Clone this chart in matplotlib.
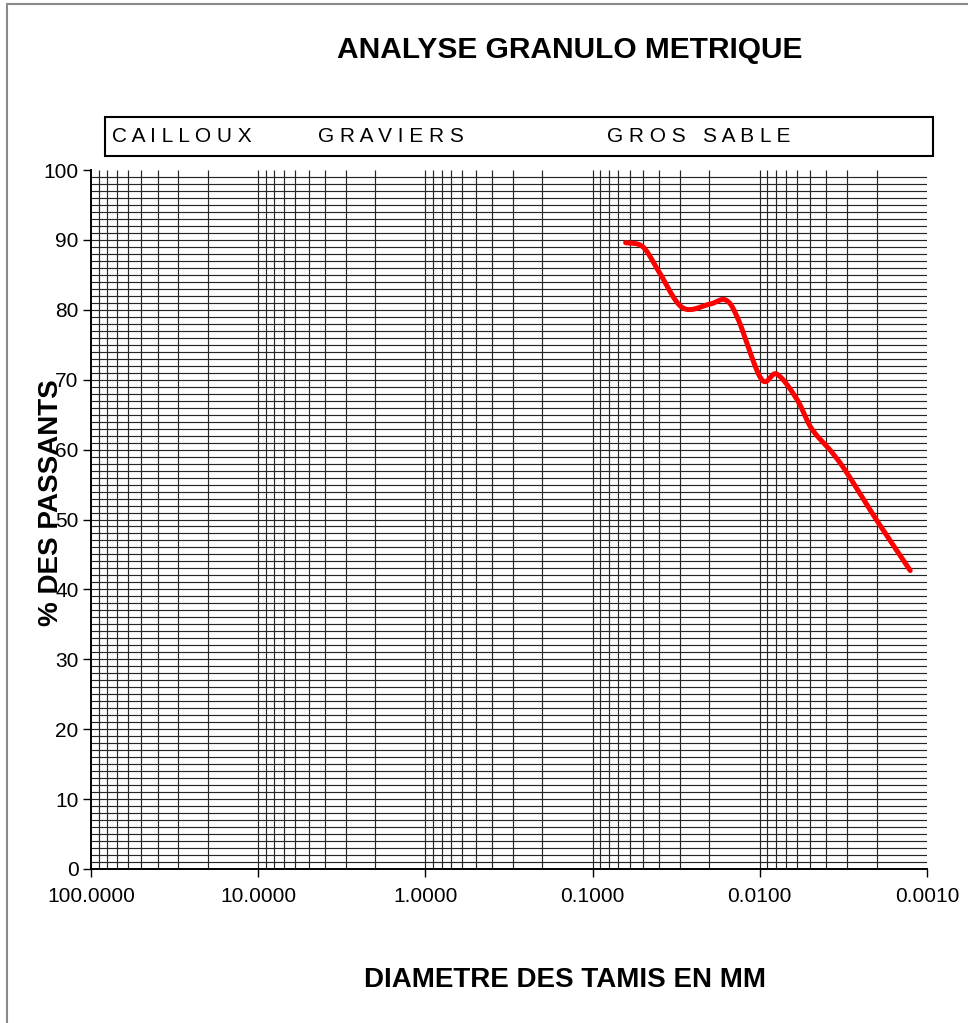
import numpy as np
import matplotlib
matplotlib.use("Agg")
import matplotlib.pyplot as plt
from matplotlib.patches import Rectangle

plt.rcParams['font.family'] = ['Liberation Sans', 'DejaVu Sans']

# Grain size (mm) and cumulative percentage passing
diametres = [0.0635, 0.050, 0.040, 0.029, 0.020, 0.016, 0.0135, 0.0098,
             0.0079, 0.0060, 0.0049, 0.0037, 0.0030, 0.0020, 0.00126]
passants = [89.6, 89.0, 85.4, 80.3, 80.8, 81.4, 78.7, 70.1,
            70.8, 67.2, 63.0, 59.6, 56.6, 49.9, 42.7]

x_ticks = [100, 10, 1, 0.1, 0.01, 0.001]
y_ticks = list(range(0, 101, 10))
classes = ["C A I L L O U X", "G R A V I E R S", "G R O S   S A B L E"]

W, H = 968, 1023


def fx(px):
    return px / W


def fy(py):
    return 1 - py / H


def smooth(xs, ys, n=40):
    """Catmull-Rom spline through the points (Bezier smoothing)."""
    p = np.column_stack([xs, ys])
    p = np.vstack([p[0], p, p[-1]])
    out = []
    t = np.linspace(0, 1, n)
    for i in range(1, len(p) - 2):
        p0, p1, p2, p3 = p[i - 1], p[i], p[i + 1], p[i + 2]
        c1 = p1 + (p2 - p0) / 6
        c2 = p2 - (p3 - p1) / 6
        seg = ((1 - t)[:, None] ** 3 * p1 + 3 * (1 - t)[:, None] ** 2 * t[:, None] * c1
               + 3 * (1 - t)[:, None] * t[:, None] ** 2 * c2 + t[:, None] ** 3 * p2)
        out.append(seg if i == 1 else seg[1:])
    out = np.vstack(out)
    return out[:, 0], out[:, 1]


fig = plt.figure(figsize=(W / 100, H / 100), dpi=100)
ax = fig.add_axes([fx(91), fy(869), fx(927) - fx(91), fy(170) - fy(869)])
ax.set_xscale('log')
ax.set_xlim(100, 0.001)
ax.set_ylim(0, 100)

# log grid: every 1..9 x decade, and every percent horizontally
grid_x = [n * 10.0 ** k for k in range(-3, 2) for n in range(1, 10)]
grid_x = [g for g in grid_x if 0.001 < g < 100]
ax.vlines(grid_x, 0, 100, colors='#262626', linewidth=0.85, zorder=1)
ax.hlines(range(1, 100), 0.001, 100, colors='#262626', linewidth=0.85, zorder=1)

lx, ly = smooth(np.log10(diametres), passants)
ax.plot(10 ** lx, ly, color='#ff0000', linewidth=3.6, solid_capstyle='round', zorder=3)

ax.set_xticks(x_ticks)
ax.set_xticklabels([f"{v:.4f}" for v in x_ticks])
ax.xaxis.set_minor_locator(matplotlib.ticker.NullLocator())
ax.set_yticks(y_ticks)
ax.tick_params(axis='both', direction='out', length=6, width=1, labelsize=15,
               color='black')
ax.tick_params(axis='x', pad=7)
ax.tick_params(axis='y', pad=3)
for s in ['top', 'right']:
    ax.spines[s].set_visible(False)
for s in ['left', 'bottom']:
    ax.spines[s].set_linewidth(1.4)
    ax.spines[s].set_color('black')

fig.text(fx(570), fy(50), "ANALYSE GRANULO METRIQUE", ha='center', va='center',
         fontsize=21.5, fontweight='bold')
fig.text(fx(565), fy(980), "DIAMETRE DES TAMIS EN MM", ha='center', va='center',
         fontsize=20, fontweight='bold')
fig.text(fx(51), fy(503), "% DES PASSANTS", ha='center', va='center',
         fontsize=20, fontweight='bold', rotation=90)

fig.patches.append(Rectangle((fx(105), fy(156)), fx(933) - fx(105), fy(117) - fy(156),
                             transform=fig.transFigure, fill=False,
                             edgecolor='black', linewidth=1.5))
for label, px in zip(classes, [112, 318, 607]):
    fig.text(fx(px), fy(137), label, ha='left', va='center', fontsize=15)

fig.patches.append(Rectangle((fx(7), fy(H + 20)), fx(W + 40), fy(4) - fy(H + 20),
                             transform=fig.transFigure, fill=False,
                             edgecolor='#8a8a8a', linewidth=1.5))

fig.savefig("out.png", dpi=100)
